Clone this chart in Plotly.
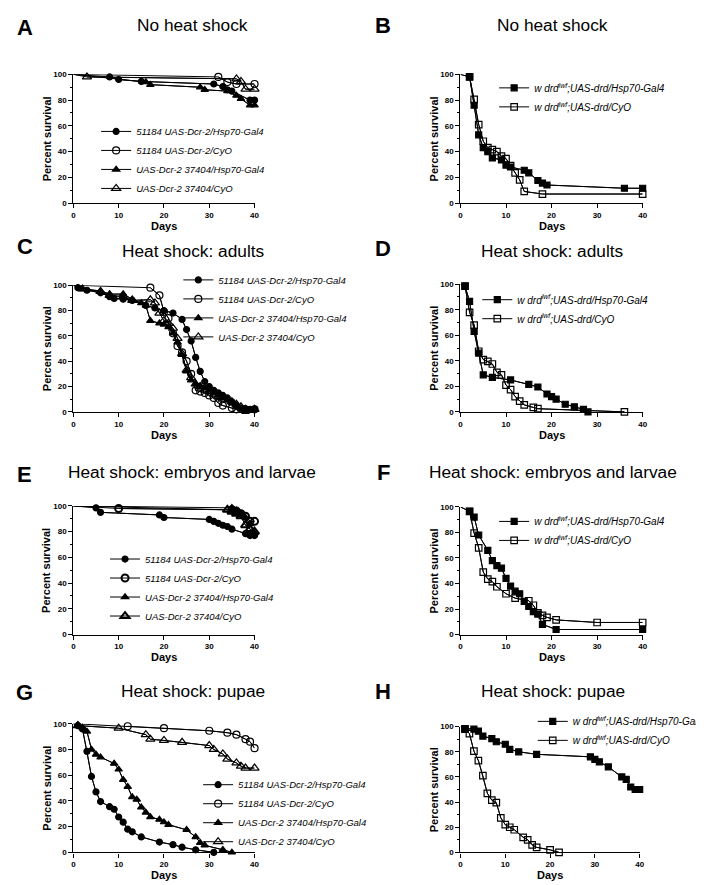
import plotly.graph_objects as go

W, H = 704, 885
FONT = "Liberation Sans, Arial, sans-serif"

# ---------------- data ----------------
NAMES_L = ["51184 UAS-Dcr-2/Hsp70-Gal4", "51184 UAS-Dcr-2/CyO",
           "UAS-Dcr-2 37404/Hsp70-Gal4", "UAS-Dcr-2 37404/CyO"]
NAMES_R = ["w drd<sup>lwf</sup>;UAS-drd/Hsp70-Gal4", "w drd<sup>lwf</sup>;UAS-drd/CyO"]
TITLES = ["No heat shock", "No heat shock", "Heat shock: adults", "Heat shock: adults",
          "Heat shock: embryos and larvae", "Heat shock: embryos and larvae",
          "Heat shock: pupae", "Heat shock: pupae"]
LETTERS = ["A", "B", "C", "D", "E", "F", "G", "H"]
X_TICKS = [0, 10, 20, 30, 40]
Y_TICKS = [0, 20, 40, 60, 80, 100]
Y_MINOR = [10, 30, 50, 70, 90]

# Panel A
A1_days = [0, 8, 10, 15, 31, 33, 34, 35, 39, 40]
A1_vals = [100, 98, 96, 94.5, 92.5, 90.5, 88, 87, 80, 80]
A2_days = [0, 32, 34, 36, 40]
A2_vals = [100, 98, 94, 92.5, 92.5]
A3_days = [0, 16, 17, 28, 29, 34, 36, 37, 39, 40]
A3_vals = [100, 94, 92, 90, 88, 87, 83.5, 81, 76, 76]
A4_days = [0, 3, 36, 37, 38, 40]
A4_vals = [100, 98, 96.5, 94.5, 88.5, 88.5]

# Panel B
B1_days = [0, 2, 3, 4, 5, 6, 7, 9, 10, 11, 14, 15, 17, 18, 19, 36, 40]
B1_vals = [100, 98, 76, 53, 43, 40, 35, 33.5, 29.5, 28, 25.5, 23.5, 17.5, 15.5, 14, 11.5, 11.5]
B2_days = [0, 2, 3, 4, 5, 6, 7, 8, 9, 10, 11, 12, 13, 14, 18, 40]
B2_vals = [100, 98, 80.5, 61, 48, 43, 41.5, 40, 36.5, 34.5, 29, 23.5, 18, 9, 7, 7]

# Panel C
C1_days = [0, 1, 3, 6, 8, 9, 11, 13, 16, 18, 20, 22, 24, 25, 26, 27, 28, 29, 30, 31, 32, 33, 34, 35, 36, 37, 38, 39, 40]
C1_vals = [100, 98, 96, 94, 91, 89.5, 89, 88, 84, 82, 80, 78, 73, 65, 56, 43, 32, 24, 20, 17, 15, 13, 11, 8, 5, 3, 2.5, 2, 2]
C2_days = [0, 17, 19, 20, 21, 22, 23, 24, 25, 26, 27, 28, 29, 30, 31, 32, 33, 35, 36, 40]
C2_vals = [100, 98, 92, 79, 74, 62, 52, 47, 40, 30, 17, 16, 15, 13, 11, 7, 5, 3, 2, 2]
C3_days = [0, 2, 6, 8, 11, 13, 15, 16, 17, 19, 20, 21, 22, 23, 24, 25, 26, 27, 28, 29, 30, 31, 32, 33, 34, 35, 36, 37, 38]
C3_vals = [100, 97, 95.5, 93, 93, 89, 86, 84, 72, 70, 69, 67, 62, 55, 45, 32, 25, 22, 20, 19, 17, 15, 13, 11, 9, 7, 5, 2, 0]
C4_days = [0, 2, 6, 8, 11, 13, 17, 18, 19, 20, 21, 22, 23, 24, 25, 26, 27, 28, 29, 30, 31, 32, 33, 35, 36, 37, 38, 40]
C4_vals = [100, 97, 95, 92, 91, 88, 88.5, 86, 78, 72, 70, 66, 58, 46, 33, 27, 22, 20, 18, 16, 14, 12, 10, 8, 6, 4, 2, 2]

# Panel D
D1_days = [0, 1, 2, 3, 4, 5, 7, 11, 15, 17, 19, 20, 21, 23, 25, 27, 28]
D1_vals = [100, 98.5, 86.5, 63, 46, 29, 27, 25, 21.5, 19.5, 14, 12, 10, 6, 4, 2, 0]
D2_days = [0, 1, 2, 3, 4, 5, 6, 7, 8, 9, 10, 11, 12, 13, 14, 16, 17, 36]
D2_vals = [100, 98.5, 78, 68, 47.5, 41, 39.5, 37.5, 31, 29, 21, 17.5, 12, 8.5, 5.5, 3.5, 2.5, 0]

# Panel E
E1_days = [0, 5, 6, 19, 20, 30, 31, 32, 33, 34, 35, 38, 39, 40]
E1_vals = [100, 98.5, 95, 93, 91, 89.5, 88, 86.5, 85, 84, 82, 78.5, 77, 77]
E2_days = [0, 10, 35, 36, 37, 38, 39, 40]
E2_vals = [100, 98, 97, 96, 94, 92, 88, 88]
E3_days = [0, 35, 36, 37, 38, 39, 40]
E3_vals = [100, 98.5, 96.5, 94, 91, 86, 79]
E4_days = [0, 34, 35, 36, 37, 38, 39, 40]
E4_vals = [100, 97, 95.5, 94, 92, 85, 82, 80]

# Panel F
F1_days = [0, 2, 3, 4, 6, 7, 8, 9, 10, 11, 12, 13, 14, 15, 16, 17, 18, 21, 40]
F1_vals = [100, 96.5, 92, 78, 66, 58, 54, 52, 44, 38, 34, 32, 26, 22, 18, 16, 8, 4, 4]
F2_days = [0, 2, 3, 4, 5, 6, 7, 8, 10, 12, 15, 16, 17, 18, 19, 21, 30, 40]
F2_vals = [100, 96.5, 79.5, 68, 49, 43.5, 41.5, 37.5, 32, 28.5, 26.5, 23, 17, 15, 13.5, 11.5, 9.5, 9.5]

# Panel G
G1_days = [0, 1, 2, 3, 4, 5, 6, 8, 9, 10, 11, 12, 13, 15, 19, 22, 24, 27, 31]
G1_vals = [100, 98.5, 96, 78.5, 59, 47, 39.5, 35.5, 33.5, 27.5, 23.5, 18, 16, 12, 8, 6, 4, 2, 0]
G2_days = [0, 12, 20, 30, 34, 36, 38, 39, 40]
G2_vals = [100, 98, 96.5, 94.5, 93, 91.5, 88, 86, 81]
G3_days = [0, 1, 2, 3, 4, 5, 6, 9, 10, 11, 12, 13, 14, 15, 16, 17, 19, 20, 21, 25, 27, 28, 29, 33, 35]
G3_vals = [100, 99, 97, 94, 80, 76, 74, 69, 64.5, 56.5, 51, 43, 41, 35, 31, 27.5, 25.5, 23.5, 21.5, 17.5, 12, 7.5, 5.5, 2, 0]
G4_days = [0, 1, 10, 16, 17, 20, 24, 30, 31, 33, 34, 36, 37, 38, 40]
G4_vals = [100, 98.5, 96.5, 91.5, 88, 87, 85.5, 83, 80, 76.5, 72.5, 69.5, 67, 65.5, 65.5]

# Panel H
H1_days = [0, 1, 3, 4, 5, 7, 8, 10, 11, 13, 17, 29, 30, 31, 33, 36, 37, 38, 39, 40]
H1_vals = [100, 98.5, 98, 96.5, 92.5, 90.5, 88, 86, 82, 80, 78, 76, 74, 72, 68, 60, 58, 52, 50, 50]
H2_days = [0, 1, 2, 3, 4, 5, 6, 7, 8, 9, 10, 11, 12, 14, 15, 16, 17, 20, 22]
H2_vals = [100, 98, 94.5, 80.5, 73, 61, 47, 41.5, 39.5, 27.5, 22, 20, 18, 12, 10, 6, 4, 2, 0]

PANELS = [
    [(A1_days, A1_vals), (A2_days, A2_vals), (A3_days, A3_vals), (A4_days, A4_vals)],
    [(B1_days, B1_vals), (B2_days, B2_vals)],
    [(C1_days, C1_vals), (C2_days, C2_vals), (C3_days, C3_vals), (C4_days, C4_vals)],
    [(D1_days, D1_vals), (D2_days, D2_vals)],
    [(E1_days, E1_vals), (E2_days, E2_vals), (E3_days, E3_vals), (E4_days, E4_vals)],
    [(F1_days, F1_vals), (F2_days, F2_vals)],
    [(G1_days, G1_vals), (G2_days, G2_vals), (G3_days, G3_vals), (G4_days, G4_vals)],
    [(H1_days, H1_vals), (H2_days, H2_vals)],
]

# ---------------- layout geometry (pixels) ----------------
BOXES = [
    (64, 247, 63, 193), (455, 639, 63, 193),
    (64, 247, 276, 404), (455, 639, 275, 404),
    (64, 247, 499, 629), (455, 639, 500, 629),
    (64, 247, 719, 849), (455, 636, 722, 849),
]
TITLE_POS = [(184, 13), (548, 13), (185, 241), (548, 241),
             (184, 465), (548, 465), (185, 686), (548, 686)]
LETTER_POS = [(15, 16), (377, 14), (15, 237), (377, 239),
              (15, 467), (377, 465), (15, 687), (377, 686)]
# legend: (text start x, first row center y)
LEG_POS = [(127, 119), (529, 75), (210, 269), (512, 289),
           (136, 551), (529, 513), (230, 779), (568, 715)]

STYLE_L = [dict(symbol="circle", size=6),
           dict(symbol="circle-open", size=7),
           dict(symbol="triangle-up", size=6.5),
           dict(symbol="triangle-up-open", size=8)]
STYLE_R = [dict(symbol="square", size=6),
           dict(symbol="square-open", size=6.5)]


def px2x(p):
    return p / W


def px2y(p):
    return 1 - p / H


fig = go.Figure()
annotations = []
layout_axes = {}
legends = {}

for i, series in enumerate(PANELS):
    n = i + 1
    xa = "x" if n == 1 else f"x{n}"
    ya = "y" if n == 1 else f"y{n}"
    leg = "legend" if n == 1 else f"legend{n}"
    left = (i % 2 == 0)
    names = NAMES_L if left else NAMES_R
    styles = STYLE_L if left else STYLE_R
    for k, (d, v) in enumerate(series):
        st = styles[k]
        lw_m = 1.2
        if i == 4 and k in (1, 3):
            lw_m = 2.0
        fig.add_trace(go.Scatter(x=d, y=v, mode="lines", xaxis=xa, yaxis=ya,
                                 line=dict(color="black", width=1),
                                 showlegend=False, hoverinfo="skip", cliponaxis=False))
        fig.add_trace(go.Scatter(x=d[1:], y=v[1:], mode="lines+markers", xaxis=xa, yaxis=ya,
                                 name=names[k], legend=leg,
                                 line=dict(color="black", width=1),
                                 marker=dict(symbol=st["symbol"], size=st["size"], color="black",
                                             line=dict(color="black", width=lw_m)),
                                 cliponaxis=False))
    l, r, t, b = BOXES[i]
    axcommon = dict(showgrid=False, zeroline=False, showline=True, linecolor="black",
                    linewidth=1.3, ticks="outside", ticklen=4, tickwidth=1.2, tickcolor="black",
                    tickfont=dict(family=FONT, size=8, color="black", weight="bold"))
    layout_axes["xaxis" if n == 1 else f"xaxis{n}"] = dict(
        domain=[px2x(l), px2x(r)], anchor=ya, range=[0, 40], tickvals=X_TICKS, **axcommon)
    layout_axes["yaxis" if n == 1 else f"yaxis{n}"] = dict(
        domain=[px2y(b), px2y(t)], anchor=xa, range=[0, 100], tickvals=Y_TICKS,
        minor=dict(ticks="outside", ticklen=2.5, tickwidth=1, tickcolor="black",
                   tickvals=Y_MINOR),
        **axcommon)
    tx, ty = TITLE_POS[i]
    annotations.append(dict(x=px2x(tx), y=px2y(ty), xref="paper", yref="paper",
                            text=TITLES[i], showarrow=False, xanchor="center", yanchor="middle",
                            font=dict(family=FONT, size=17.3, color="black")))
    lx, ly = LETTER_POS[i]
    annotations.append(dict(x=px2x(lx), y=px2y(ly), xref="paper", yref="paper",
                            text=f"<b>{LETTERS[i]}</b>", showarrow=False, xanchor="center",
                            yanchor="middle", font=dict(family=FONT, size=22, color="black")))
    annotations.append(dict(x=px2x(l - 27), y=px2y((t + b) / 2), xref="paper", yref="paper",
                            text="<b>Percent survival</b>", textangle=-90, showarrow=False,
                            xanchor="center", yanchor="middle",
                            font=dict(family=FONT, size=11, color="black")))
    annotations.append(dict(x=px2x((l + r) / 2), y=px2y(b + 23), xref="paper", yref="paper",
                            text="<b>Days</b>", showarrow=False, xanchor="center", yanchor="middle",
                            font=dict(family=FONT, size=11, color="black")))
    gx, gy = LEG_POS[i]
    legends[leg] = dict(x=px2x(gx - 40), y=px2y(gy - 13), xanchor="left", yanchor="top",
                        bgcolor="rgba(0,0,0,0)", borderwidth=0, itemclick=False,
                        font=dict(family=FONT, size=9.5 if left else 10, color="black",
                                  style="italic"),
                        tracegroupgap=0)

fig.update_layout(width=W, height=H, margin=dict(l=0, r=0, t=0, b=0, pad=0),
                  paper_bgcolor="white", plot_bgcolor="white", showlegend=True,
                  annotations=annotations, **layout_axes, **legends)

fig.write_html("out.html")
